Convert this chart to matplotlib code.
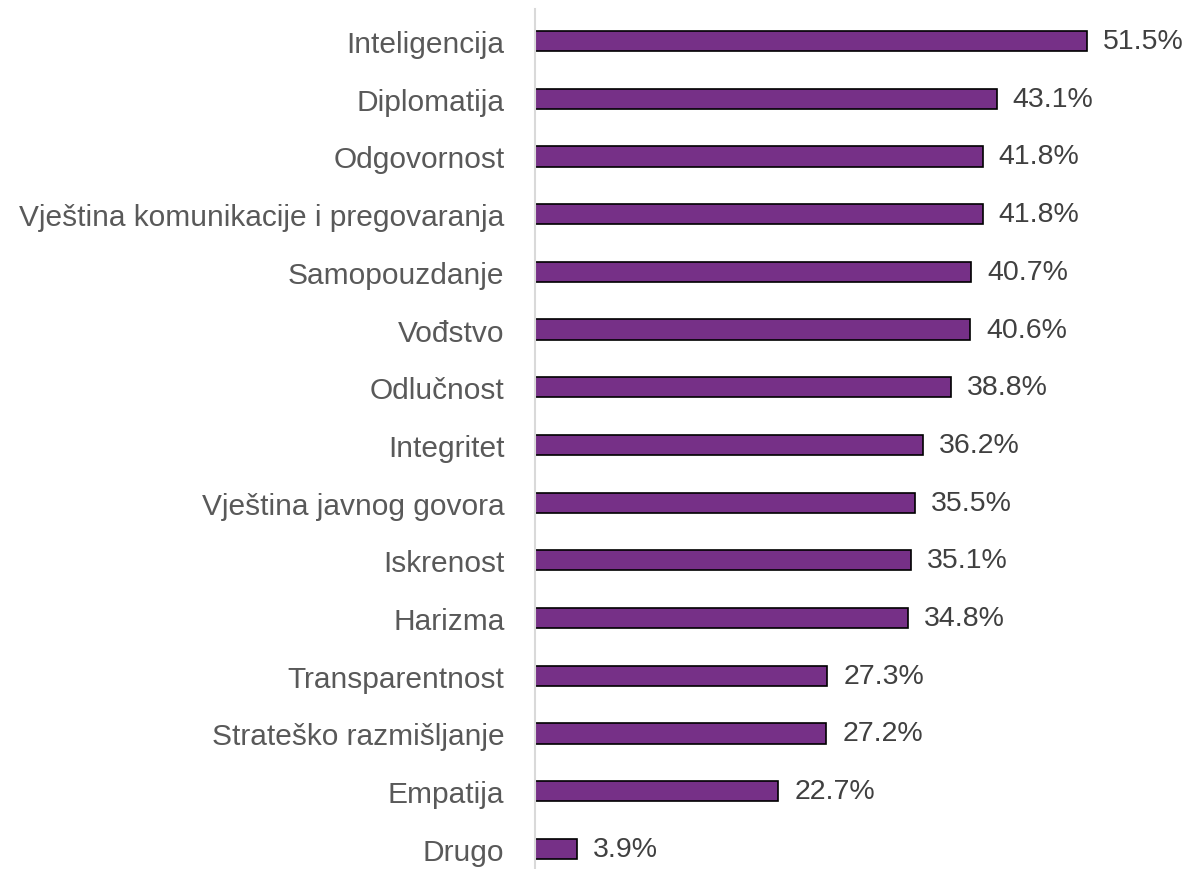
import matplotlib.pyplot as plt

# data
categories = ["Inteligencija", "Diplomatija", "Odgovornost",
              "Vještina komunikacije i pregovaranja", "Samopouzdanje",
              "Vođstvo", "Odlučnost", "Integritet", "Vještina javnog govora",
              "Iskrenost", "Harizma", "Transparentnost",
              "Strateško razmišljanje", "Empatija", "Drugo"]
values = [51.5, 43.1, 41.8, 41.8, 40.7, 40.6, 38.8, 36.2, 35.5,
          35.1, 34.8, 27.3, 27.2, 22.7, 3.9]

plt.rcParams['font.family'] = ['Liberation Sans', 'DejaVu Sans']

fig = plt.figure(figsize=(11.9, 8.7), dpi=100)
ax = fig.add_axes([0.4496, 0.0, 0.54, 0.9885])

pos = list(range(len(categories)))
ax.barh(pos, values, height=0.35, color="#763087", edgecolor="black", linewidth=1.2)

for p, v in zip(pos, values):
    ax.text(v + 1.5, p, f"{v:.1f}%", va="center", ha="left",
            fontsize=20.5, color="#404040")

ax.set_yticks(pos)
ax.set_yticklabels(categories, fontsize=21.5, color="#595959")
ax.tick_params(axis="y", length=0, pad=22)
ax.set_ylim(14.35, -0.555)
ax.set_xlim(0, 60)
ax.set_xticks([])

for s in ["top", "right", "bottom"]:
    ax.spines[s].set_visible(False)
ax.spines["left"].set_color("#d9d9d9")
ax.spines["left"].set_linewidth(1.5)

fig.savefig("out.png", dpi=100)
